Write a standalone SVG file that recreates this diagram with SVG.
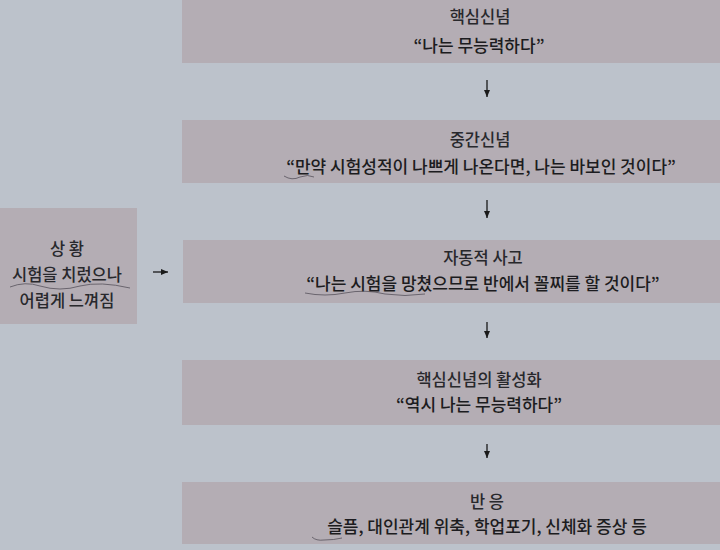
<svg xmlns="http://www.w3.org/2000/svg" width="720" height="550" viewBox="0 0 720 550">
<defs>
<style>
.box{fill:#b4adb4}
text{font-family:"Noto Sans CJK KR","Noto Sans",sans-serif;fill:#1c1c20;text-anchor:middle;font-weight:500}
.t{font-size:16.5px;fill:#28282c}
.q{font-size:17px}
.c{stroke:#1a1a1a;stroke-width:1.3;fill:none}
.pen{stroke:#4a4650;stroke-width:1;fill:none;opacity:0.7}
</style>
<marker id="ar" markerWidth="8" markerHeight="6" refX="7" refY="3" orient="auto" markerUnits="userSpaceOnUse">
<path d="M0,0 L7,3 L0,6 Z" fill="#1a1a1a"/>
</marker>
</defs>
<rect width="720" height="550" fill="#bcc2cb"/>

<g id="core">
<rect class="box" x="182" y="0" width="538" height="63"/>
<text class="t" x="480" y="23">핵심신념</text>
<text class="q" x="479" y="52">“나는 무능력하다”</text>
</g>

<g id="intermediate">
<rect class="box" x="182" y="120" width="538" height="63"/>
<text class="t" x="480" y="146">중간신념</text>
<text class="q" x="481" y="173">“만약 시험성적이 나쁘게 나온다면, 나는 바보인 것이다”</text>
</g>

<g id="situation">
<rect class="box" x="0" y="208" width="137" height="116"/>
<text class="t" x="67" y="255">상 황</text>
<text class="t" x="67" y="281">시험을 치렀으나</text>
<text class="t" x="67" y="307">어렵게 느껴짐</text>
</g>

<g id="automatic">
<rect class="box" x="183" y="240" width="537" height="63"/>
<text class="t" x="483" y="264">자동적 사고</text>
<text class="q" x="483" y="290">“나는 시험을 망쳤으므로 반에서 꼴찌를 할 것이다”</text>
</g>

<g id="activation">
<rect class="box" x="182" y="360" width="538" height="65"/>
<text class="t" x="479" y="386">핵심신념의 활성화</text>
<text class="q" x="479" y="411">“역시 나는 무능력하다”</text>
</g>

<g id="response">
<rect class="box" x="182" y="482" width="538" height="62"/>
<text class="t" x="487" y="508">반 응</text>
<text class="q" x="487" y="533">슬픔, 대인관계 위축, 학업포기, 신체화 증상 등</text>
</g>

<g id="connectors">
<line class="c" x1="487" y1="80" x2="487" y2="97" marker-end="url(#ar)"/>
<line class="c" x1="487" y1="200" x2="487" y2="218" marker-end="url(#ar)"/>
<line class="c" x1="487" y1="322" x2="487" y2="338" marker-end="url(#ar)"/>
<line class="c" x1="487" y1="444" x2="487" y2="458" marker-end="url(#ar)"/>
<line class="c" x1="153" y1="272" x2="168" y2="272" marker-end="url(#ar)"/>
</g>
<g id="pencil-marks">
<path class="pen" d="M284,176 q8,5 16,1 q8,-3 14,0"/>
<path class="pen" d="M305,293 q20,4 40,0 q20,-4 40,1 q20,3 40,0"/>
<path class="pen" d="M10,287 q15,-6 30,-1 q20,6 40,0 q20,-5 50,2"/>
<path class="pen" d="M312,537 q4,4 12,3 q10,0 18,-2"/>
</g>
</svg>
